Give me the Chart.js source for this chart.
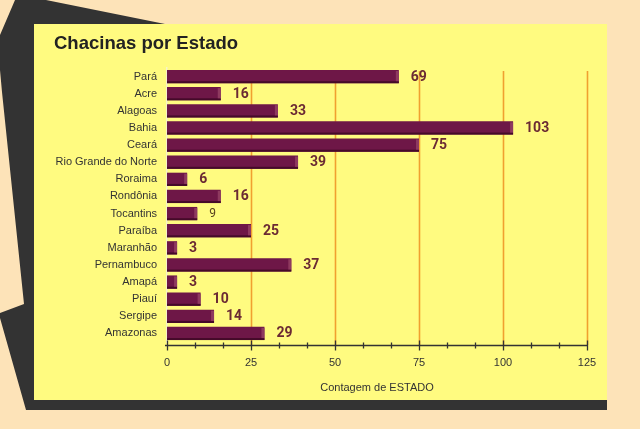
<!DOCTYPE html>
<html>
<head>
<meta charset="utf-8">
<script src="https://cdn.jsdelivr.net/npm/chart.js@4"></script>
<style>
html,body{margin:0;padding:0;background:#fde3b8;}
#wrap{width:640px;height:429px;position:relative;}
</style>
</head>
<body>
<div id="wrap"><canvas id="c" width="640" height="429"></canvas></div>
<script>
const categories = ["Pará","Acre","Alagoas","Bahia","Ceará","Rio Grande do Norte","Roraima","Rondônia","Tocantins","Paraíba","Maranhão","Pernambuco","Amapá","Piauí","Sergipe","Amazonas"];
const counts = [69,16,33,103,75,39,6,16,9,25,3,37,3,10,14,29];
const xTicks = [0,25,50,75,100,125];
const chartTitle = "Chacinas por Estado";
const xAxisTitle = "Contagem de ESTADO";

const backgroundPlugin = {
  id: 'bg',
  beforeDraw(chart) {
    const ctx = chart.ctx;
    ctx.save();
    ctx.fillStyle = '#fde3b8';
    ctx.fillRect(0, 0, chart.width, chart.height);
    ctx.fillStyle = '#333333';
    ctx.beginPath();
    const pts = [[15,0],[46,0],[165,24],[607,24],[607,410],[26,410],[0,318],[0,313],[24,304],[2,92],[0,70],[0,35]];
    ctx.moveTo(pts[0][0], pts[0][1]);
    for (let i = 1; i < pts.length; i++) ctx.lineTo(pts[i][0], pts[i][1]);
    ctx.closePath();
    ctx.fill();
    ctx.fillStyle = '#fffb80';
    ctx.fillRect(34, 24, 573, 376);
    ctx.restore();
  }
};

const axisPlugin = {
  id: 'axisdraw',
  beforeDatasetsDraw(chart) {
    const ctx = chart.ctx, xs = chart.scales.x, ca = chart.chartArea;
    const axisY = ca.bottom + 3;
    ctx.save();
    ctx.strokeStyle = '#f0a030';
    ctx.lineWidth = 1.6;
    xTicks.forEach(v => {
      if (v === 0) return;
      const px = Math.round(xs.getPixelForValue(v)) + 0.5;
      ctx.beginPath(); ctx.moveTo(px, ca.top + 3); ctx.lineTo(px, axisY); ctx.stroke();
    });
    ctx.restore();
  },
  afterDraw(chart) {
    const ctx = chart.ctx, xs = chart.scales.x, ca = chart.chartArea;
    const axisY = ca.bottom + 3.5;
    ctx.save();
    ctx.strokeStyle = '#333333';
    ctx.lineWidth = 1.3;
    ctx.beginPath(); ctx.moveTo(xs.getPixelForValue(0) - 2, axisY); ctx.lineTo(xs.getPixelForValue(125), axisY); ctx.stroke();
    for (let i = 0; i < xTicks.length; i++) {
      const v = xTicks[i];
      const px = Math.round(xs.getPixelForValue(v)) + 0.5;
      ctx.beginPath(); ctx.moveTo(px, axisY - 5); ctx.lineTo(px, axisY + 5); ctx.stroke();
      if (i < xTicks.length - 1) {
        const step = (xTicks[i+1] - v) / 3;
        for (let k = 1; k < 3; k++) {
          const mx = Math.round(xs.getPixelForValue(v + step * k)) + 0.5;
          ctx.beginPath(); ctx.moveTo(mx, axisY - 3); ctx.lineTo(mx, axisY + 3); ctx.stroke();
        }
      }
    }
    ctx.restore();
  }
};

const barDecorPlugin = {
  id: 'bardecor',
  afterDatasetsDraw(chart) {
    const ctx = chart.ctx;
    const meta = chart.getDatasetMeta(0);
    ctx.save();
    meta.data.forEach((el, i) => {
      const p = el.getProps(['x','y','base','height'], true);
      const x0 = Math.min(p.x, p.base), x1 = Math.max(p.x, p.base);
      const y0 = p.y - p.height / 2, y1 = p.y + p.height / 2;
      ctx.fillStyle = '#450a29';
      ctx.fillRect(x0, y1 - 2, x1 - x0, 2);
      ctx.fillStyle = '#8e3a5f';
      ctx.fillRect(x1 - 3, y0 + 1, 3, y1 - y0 - 3);
      const v = counts[i];
      if (v === 9) {
        ctx.font = '12px Roboto, "Liberation Sans", Arial';
        ctx.fillStyle = '#5a4220';
      } else {
        ctx.font = 'bold 14px Roboto, "Liberation Sans", Arial';
        ctx.fillStyle = '#6b2a33';
      }
      ctx.textAlign = 'left';
      ctx.textBaseline = 'middle';
      ctx.fillText(String(v), x1 + 12, p.y + 0.5);
    });
    ctx.restore();
  }
};

Chart.defaults.font.family = '"Liberation Sans", Arial, sans-serif';
Chart.defaults.color = '#333333';

new Chart(document.getElementById('c'), {
  type: 'bar',
  data: {
    labels: categories,
    datasets: [{
      data: counts,
      backgroundColor: '#6e1747',
      borderWidth: 0,
      barPercentage: 0.86,
      categoryPercentage: 0.9
    }]
  },
  options: {
    indexAxis: 'y',
    responsive: false,
    animation: false,
    devicePixelRatio: 1,
    layout: { padding: { left: 54, right: 53, top: 33, bottom: 29 } },
    plugins: {
      legend: { display: false },
      tooltip: { enabled: false },
      title: {
        display: true,
        text: chartTitle,
        align: 'start',
        color: '#222222',
        font: { size: 18.5, weight: 'bold', family: '"Liberation Sans", Arial, sans-serif', lineHeight: 1.2 },
        padding: { top: 0, bottom: 12.8 }
      }
    },
    scales: {
      x: {
        type: 'linear',
        min: 0, max: 125,
        afterBuildTicks(scale) { scale.ticks = xTicks.map(v => ({ value: v })); },
        afterFit(scale) { scale.height = 58; },
        grid: { display: false, drawTicks: false },
        border: { display: false },
        ticks: { color: '#333333', font: { size: 11 }, padding: 14, maxRotation: 0 },
        title: { display: true, text: xAxisTitle, color: '#333333', font: { size: 11 }, padding: { top: 0, bottom: 5 } }
      },
      y: {
        afterFit(scale) { scale.width = 113; },
        grid: { display: false, drawTicks: false },
        border: { display: true, color: '#f6f3c8', width: 1.5 },
        ticks: { color: '#333333', font: { size: 11 }, padding: 10, autoSkip: false }
      }
    }
  },
  plugins: [backgroundPlugin, axisPlugin, barDecorPlugin]
});
</script>
</body>
</html>
